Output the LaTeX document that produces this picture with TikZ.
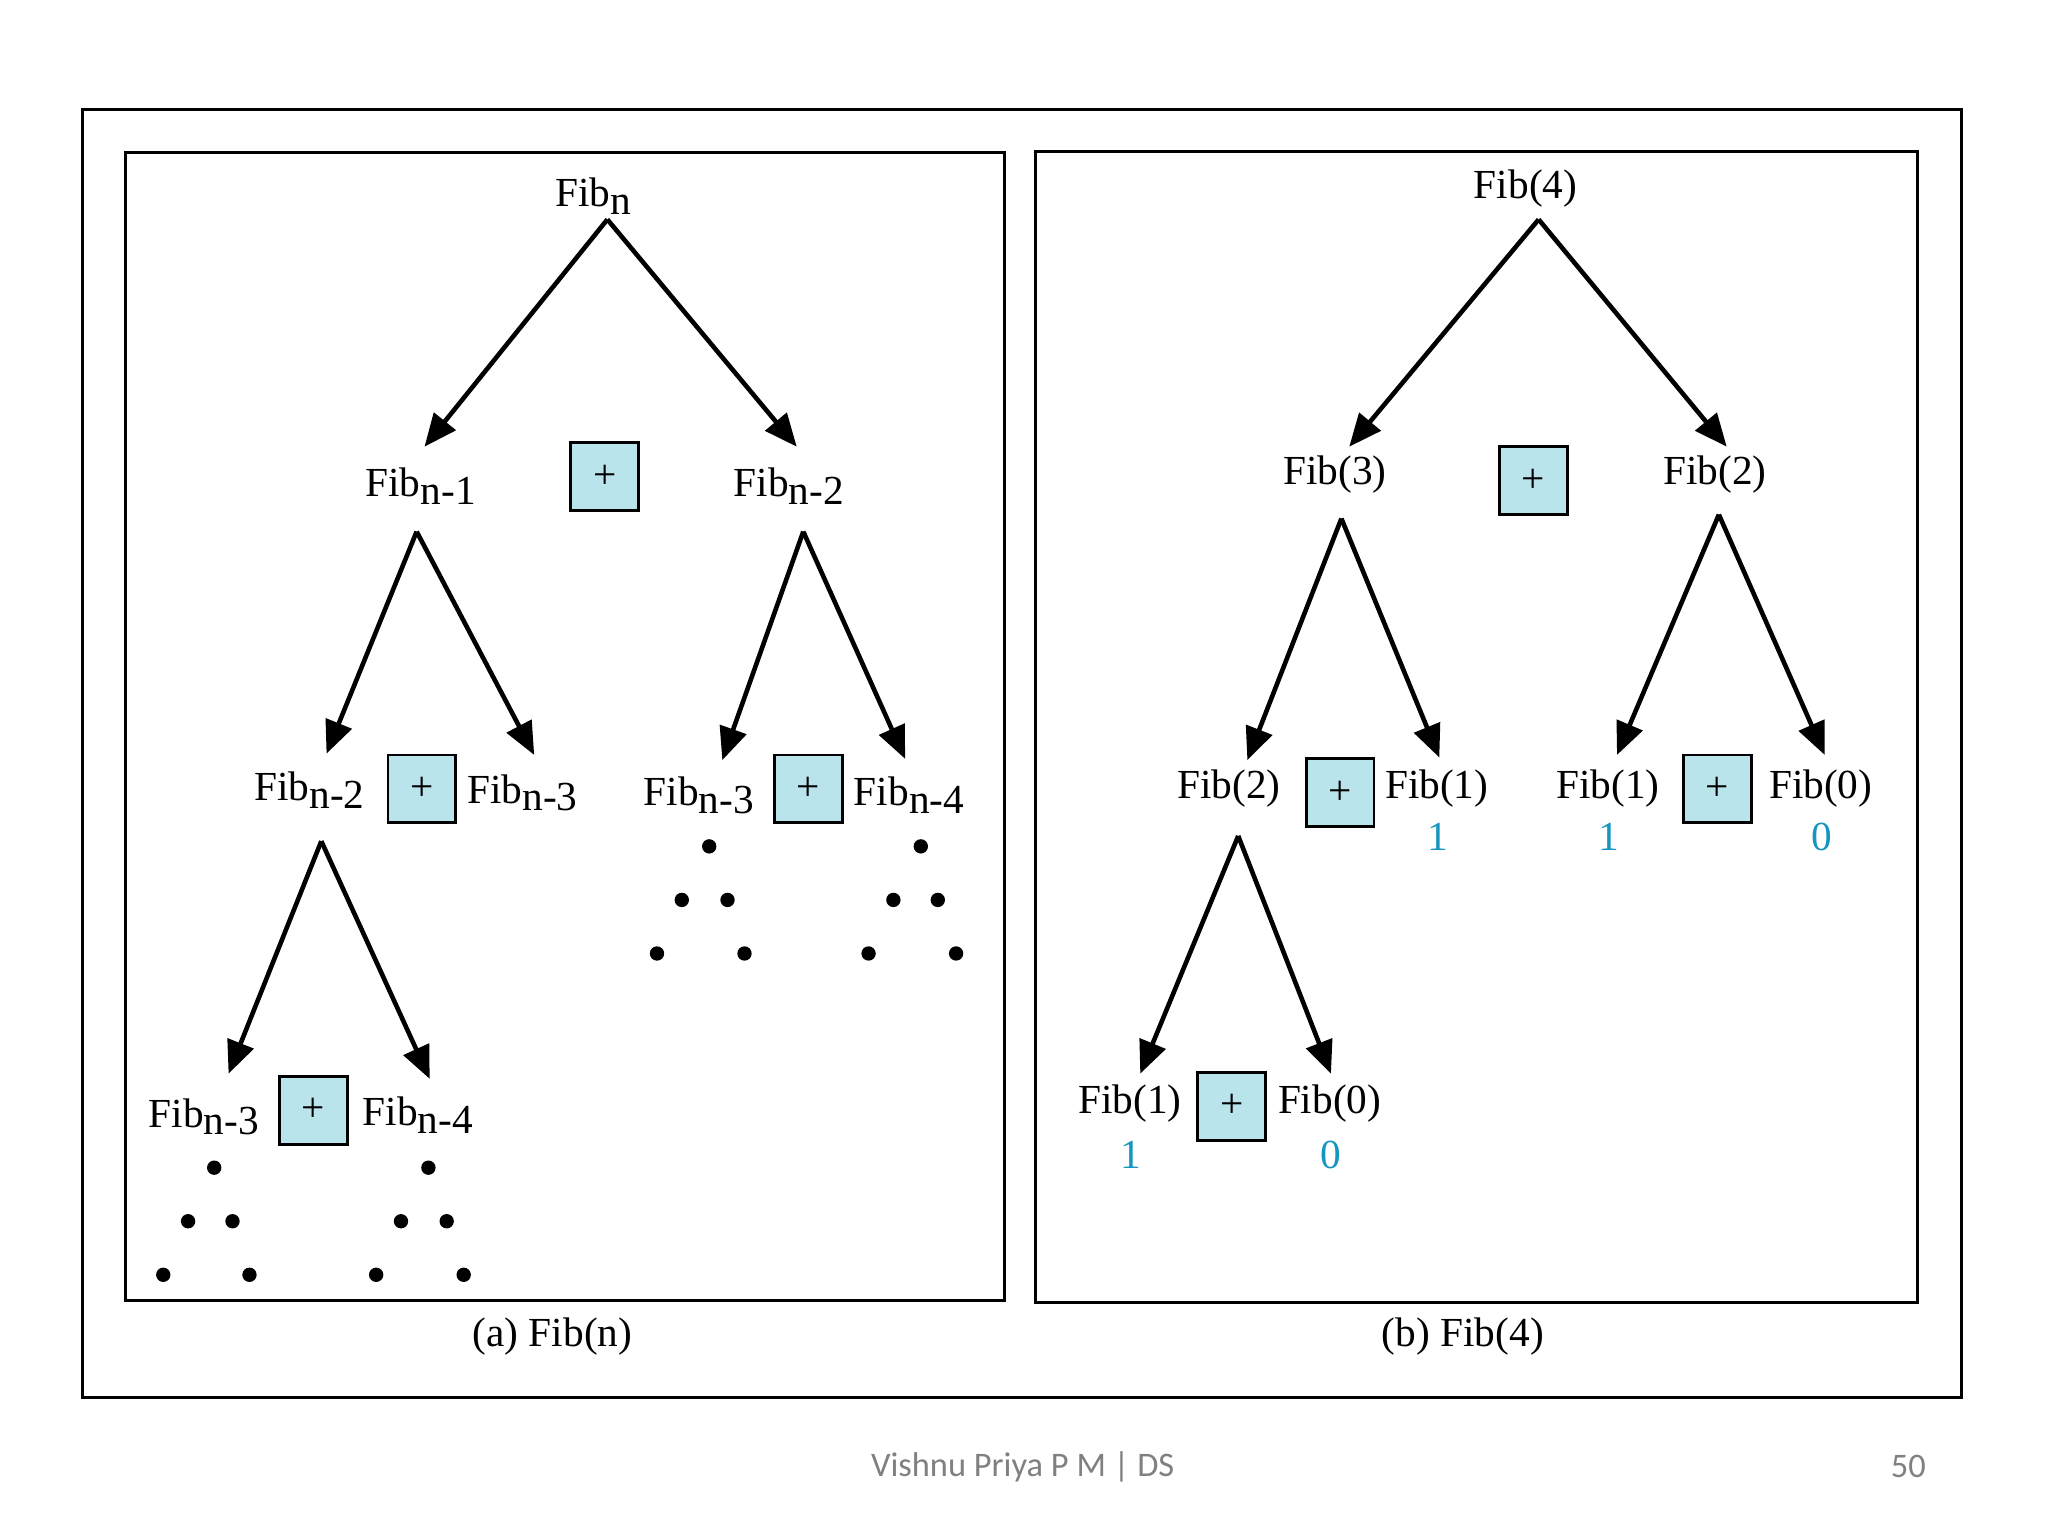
\documentclass[tikz,border=0pt]{standalone}
\usepackage{fontspec}
\setmainfont{Liberation Serif}
\newfontfamily\footfont{Carlito}
\usetikzlibrary{arrows.meta}
\definecolor{boxblue}{RGB}{186,228,236}
\definecolor{numteal}{RGB}{20,150,190}
\newcommand{\fsub}[1]{\raisebox{-0.4ex}{#1}}
\begin{document}
\begin{tikzpicture}[x=0.02cm,y=-0.02cm,
  lab/.style={inner sep=0pt,font=\fontsize{18}{21}\selectfont},
  num/.style={lab,text=numteal},
  plus/.style={draw,line width=1.2pt,fill=boxblue,minimum size=1.04cm,inner sep=0pt,font=\fontsize{18}{21}\selectfont},
  arr/.style={line width=2pt,-{Triangle[length=5mm,width=4.2mm]}},
  frame/.style={draw,line width=1.3pt},
  dot/.style={circle,fill,inner sep=0pt,minimum size=2.2mm}]
\useasboundingbox (0,0) rectangle (1568,1176);
\draw[frame] (63,84) rectangle (1502,1070);
\draw[frame] (96,117) rectangle (769,996);
\draw[frame] (793,116) rectangle (1468,997);
\node[lab] (capa) at (423,1023) {(a) Fib(n)};
\node[lab] (capb) at (1120,1023) {(b) Fib(4)};
\node[inner sep=0pt,font=\footfont\fontsize{15}{17}\selectfont,text=gray] (foot) at (783,1123) {Vishnu Priya P M | DS};
\node[inner sep=0pt,font=\footfont\fontsize{15}{17}\selectfont,text=gray] (page) at (1461,1123) {50};
% left tree
\node[lab] (ln) at (454,150) {Fib\fsub{n}};
\coordinate (la) at (465,168);
\node[lab] (ln1) at (322,372) {Fib\fsub{n-1}};
\node[plus] (lp1) at (463,365) {+};
\node[lab] (ln2) at (604,372) {Fib\fsub{n-2}};
\coordinate (la1) at (319,407); \coordinate (la2) at (615,407);
\coordinate (t1) at (325,342); \coordinate (t2) at (610,342);
\draw[arr] (la) -- (t1); \draw[arr] (la) -- (t2);
\node[lab] (l3a) at (237,605) {Fib\fsub{n-2}};
\node[plus] (lp2) at (323,604) {+};
\node[lab] (l3b) at (400,607) {Fib\fsub{n-3}};
\node[lab] (l3c) at (535,609) {Fib\fsub{n-3}};
\node[plus] (lp3) at (619,604) {+};
\node[lab] (l3d) at (696,609) {Fib\fsub{n-4}};
\coordinate (t3) at (250,577); \coordinate (t4) at (409,578);
\coordinate (t5) at (553,582); \coordinate (t6) at (693,581);
\draw[arr] (la1) -- (t3); \draw[arr] (la1) -- (t4);
\draw[arr] (la2) -- (t5); \draw[arr] (la2) -- (t6);
\coordinate (la3) at (246,644);
\coordinate (t7) at (175,822); \coordinate (t8) at (329,826);
\draw[arr] (la3) -- (t7); \draw[arr] (la3) -- (t8);
\node[lab] (l4a) at (156,855) {Fib\fsub{n-3}};
\node[plus] (lp4) at (240,850) {+};
\node[lab] (l4b) at (320,854) {Fib\fsub{n-4}};
\foreach \x/\y [count=\i] in {543/648,522/689,557/689,503/730,570/730,705/648,684/689,718/689,665/730,732/730,164/894,144/935,178/935,125/976,191/976,328/894,307/935,342/935,288/976,355/976}
  \node[dot] (d\i) at (\x,\y) {};
% right tree
\node[lab] (r4) at (1168,144) {Fib(4)};
\coordinate (ra) at (1178,168);
\node[lab] (r3) at (1022,363) {Fib(3)};
\node[plus] (rp1) at (1174,368) {+};
\node[lab] (r2) at (1313,363) {Fib(2)};
\coordinate (s1) at (1033,342); \coordinate (s2) at (1322,342);
\draw[arr] (ra) -- (s1); \draw[arr] (ra) -- (s2);
\coordinate (ra1) at (1027,397); \coordinate (ra2) at (1316,394);
\coordinate (s3) at (955,582); \coordinate (s4) at (1102,580);
\coordinate (s5) at (1238,578); \coordinate (s6) at (1397,578);
\draw[arr] (ra1) -- (s3); \draw[arr] (ra1) -- (s4);
\draw[arr] (ra2) -- (s5); \draw[arr] (ra2) -- (s6);
\node[lab] (r3a) at (941,604) {Fib(2)};
\node[plus] (rp2) at (1026,607) {+};
\node[lab] (r3b) at (1100,604) {Fib(1)};
\node[num] (v1) at (1101,641) {1};
\node[lab] (r3c) at (1231,604) {Fib(1)};
\node[num] (v2) at (1232,641) {1};
\node[plus] (rp3) at (1315,604) {+};
\node[lab] (r3d) at (1394,604) {Fib(0)};
\node[num] (v3) at (1395,641) {0};
\coordinate (ra3) at (948,640);
\coordinate (s7) at (873,822); \coordinate (s8) at (1019,822);
\draw[arr] (ra3) -- (s7); \draw[arr] (ra3) -- (s8);
\node[lab] (r4a) at (865,845) {Fib(1)};
\node[num] (v4) at (866,884) {1};
\node[plus] (rp4) at (943,847) {+};
\node[lab] (r4b) at (1018,845) {Fib(0)};
\node[num] (v5) at (1019,884) {0};
\end{tikzpicture}
\end{document}
